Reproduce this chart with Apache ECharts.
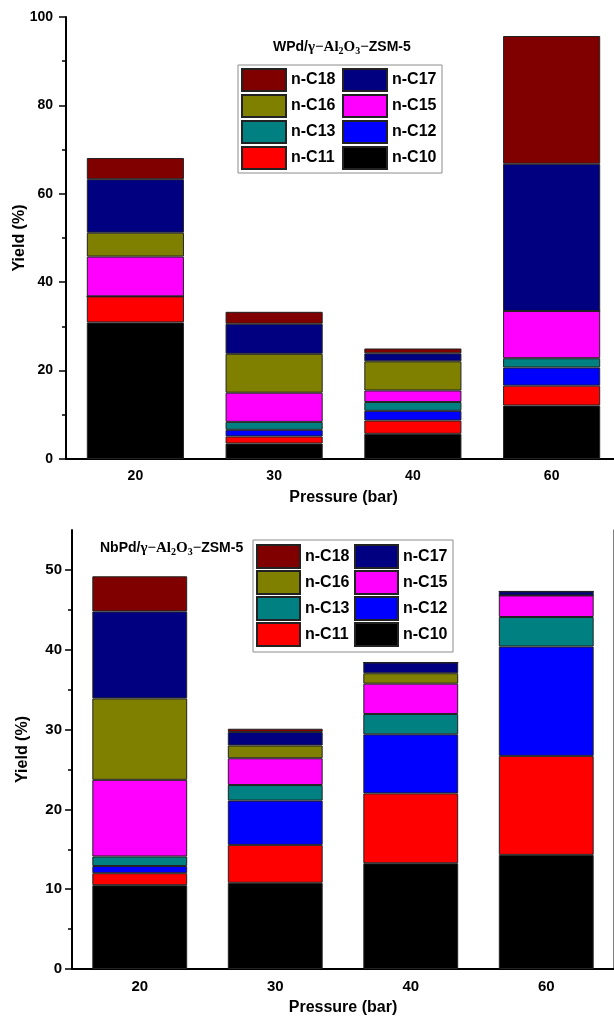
<!DOCTYPE html>
<html>
<head>
<meta charset="utf-8">
<script src="https://cdn.jsdelivr.net/npm/echarts@6.0.0/dist/echarts.min.js"></script>
<style>
html,body{margin:0;padding:0;background:#fff;}
#chart{width:614px;height:1016px;}
</style>
</head>
<body>
<div id="chart"></div>
<script>
// ---- data ----
const categories = ['20', '30', '40', '60'];
const seriesNames = ['n-C10', 'n-C11', 'n-C12', 'n-C13', 'n-C15', 'n-C16', 'n-C17', 'n-C18'];
const legendOrder = ['n-C18', 'n-C17', 'n-C16', 'n-C15', 'n-C13', 'n-C12', 'n-C11', 'n-C10'];
const seriesColors = ['#000000', '#FF0000', '#0000FF', '#008080', '#FF00FF', '#808000', '#000080', '#800000'];

// WPd/γ-Al2O3-ZSM-5 (top)
const wC10 = [30.9, 3.5, 5.7, 12.1];
const wC11 = [5.9, 1.6, 3.0, 4.5];
const wC12 = [0, 1.5, 2.2, 4.1];
const wC13 = [0, 1.8, 2.0, 2.1];
const wC15 = [9.0, 6.6, 2.6, 10.7];
const wC16 = [5.4, 8.8, 6.6, 0];
const wC17 = [12.1, 6.8, 1.8, 33.3];
const wC18 = [4.8, 2.7, 1.1, 28.9];

// NbPd/γ-Al2O3-ZSM-5 (bottom)
const nC10 = [10.5, 10.8, 13.25, 14.3];
const nC11 = [1.5, 4.75, 8.75, 12.4];
const nC12 = [0.9, 5.55, 7.4, 13.7];
const nC13 = [1.2, 1.95, 2.55, 3.7];
const nC15 = [9.6, 3.35, 3.8, 2.7];
const nC16 = [10.2, 1.6, 1.3, 0];
const nC17 = [10.9, 1.7, 1.35, 0.5];
const nC18 = [4.4, 0.4, 0, 0];

const topMajorTicks = [0, 20, 40, 60, 80, 100];
const bottomMajorTicks = [0, 10, 20, 30, 40, 50];
const bottomMinorTicks = [5, 15, 25, 35, 45];

const topData = [wC10, wC11, wC12, wC13, wC15, wC16, wC17, wC18];
const bottomData = [nC10, nC11, nC12, nC13, nC15, nC16, nC17, nC18];

// ---- styling ----
const SANS = '"Liberation Sans", Arial, sans-serif';
const SERIF = '"Liberation Serif", "Times New Roman", serif';

function makeSeries(dataSets, xi, yi, stack) {
  return dataSets.map((d, i) => ({
    name: seriesNames[i],
    type: 'bar',
    stack: stack,
    xAxisIndex: xi,
    yAxisIndex: yi,
    barWidth: '70%',
    data: d,
    itemStyle: { color: seriesColors[i], borderColor: '#222', borderWidth: 1 },
    emphasis: { disabled: true },
    animation: false
  }));
}

const titleRich = {
  b: { fontFamily: SANS, fontWeight: 'bold', fontSize: 14, color: '#000', lineHeight: 18, verticalAlign: 'middle' },
  g: { fontFamily: SERIF, fontSize: 15, color: '#000', lineHeight: 18, verticalAlign: 'middle' },
  s: { fontFamily: SERIF, fontSize: 10, color: '#000', lineHeight: 18, verticalAlign: 'bottom' }
};

function legendCfg(left, top, iw, ih, gap, tw, padding) {
  return {
    data: legendOrder,
    left: left, top: top, width: 205,
    orient: 'horizontal',
    icon: 'rect',
    itemWidth: iw, itemHeight: ih, itemGap: gap,
    padding: padding,
    borderColor: '#8c8c8c', borderWidth: 1,
    backgroundColor: '#fff',
    selectedMode: false,
    textStyle: { fontFamily: SANS, fontWeight: 'bold', fontSize: 16, lineHeight: 18, color: '#000', width: tw }
  };
}

const axisLbl = (size, margin) => ({ fontFamily: SANS, fontWeight: 'bold', fontSize: size, color: '#000', margin: margin });
const nameStyle = { fontFamily: SANS, fontWeight: 'bold', fontSize: 16, color: '#000' };

const option = {
  backgroundColor: '#fff',
  animation: false,
  title: [
    { text: '{b|WPd/}{g|γ−Al}{s|2}{g|O}{s|3}{g|−}{b|ZSM-5}', left: 273, top: 38, padding: 0,
      textStyle: { rich: titleRich } },
    { text: '{b|NbPd/}{g|γ−Al}{s|2}{g|O}{s|3}{g|−}{b|ZSM-5}', left: 100, top: 539, padding: 0,
      textStyle: { rich: titleRich } }
  ],
  legend: [
    legendCfg(238, 65, 44, 22, 2, 49, [3, 1, 3, 3]),
    legendCfg(253, 540, 43, 23, 1, 48, [4, 2, 5, 3])
  ],
  grid: [
    { left: 66, top: 17, width: 555, height: 442, outerBoundsMode: 'none', containLabel: false },
    { left: 72, top: 530, width: 542, height: 439, outerBoundsMode: 'none', containLabel: false }
  ],
  xAxis: [
    { type: 'category', gridIndex: 0, data: categories,
      axisLine: { lineStyle: { color: '#000', width: 2 } },
      axisTick: { show: false },
      axisLabel: axisLbl(14, 10),
      name: 'Pressure (bar)', nameLocation: 'middle', nameGap: 31, nameMoveOverlap: false, nameTextStyle: nameStyle },
    { type: 'category', gridIndex: 0, data: categories, position: 'top',
      axisLine: { lineStyle: { color: '#000', width: 2 } },
      axisTick: { show: false }, axisLabel: { show: false } },
    { type: 'category', gridIndex: 1, data: categories,
      axisLine: { lineStyle: { color: '#000', width: 2 } },
      axisTick: { show: false },
      axisLabel: axisLbl(15, 10),
      name: 'Pressure (bar)', nameLocation: 'middle', nameGap: 31, nameMoveOverlap: false, nameTextStyle: nameStyle },
    { type: 'category', gridIndex: 1, data: categories, position: 'top',
      axisLine: { lineStyle: { color: '#000', width: 2 } },
      axisTick: { show: false }, axisLabel: { show: false } }
  ],
  yAxis: [
    { type: 'value', gridIndex: 0, min: 0, max: 100, interval: 20,
      axisLine: { show: true, lineStyle: { color: '#000', width: 2 } },
      axisTick: { show: true, length: 7, lineStyle: { color: '#000', width: 1.5 } },
      minorTick: { show: true, splitNumber: 2, length: 4, lineStyle: { color: '#000', width: 1.5 } },
      splitLine: { show: false },
      axisLabel: Object.assign(axisLbl(14, 13), { customValues: topMajorTicks }),
      name: 'Yield (%)', nameLocation: 'middle', nameGap: 38, nameMoveOverlap: false, nameTextStyle: nameStyle },
    { type: 'value', gridIndex: 0, min: 0, max: 100, position: 'right',
      axisLine: { show: true, lineStyle: { color: '#000', width: 2 } },
      axisTick: { show: false }, axisLabel: { show: false }, splitLine: { show: false } },
    { type: 'value', gridIndex: 1, min: 0, max: 55,
      axisLine: { show: true, lineStyle: { color: '#000', width: 2 } },
      axisTick: { show: true, length: 7, customValues: bottomMajorTicks, lineStyle: { color: '#000', width: 1.5 } },
      splitLine: { show: false },
      axisLabel: Object.assign(axisLbl(15, 10), { customValues: bottomMajorTicks }),
      name: 'Yield (%)', nameLocation: 'middle', nameGap: 41, nameMoveOverlap: false, nameTextStyle: nameStyle },
    { type: 'value', gridIndex: 1, min: 0, max: 55, position: 'left',
      axisLine: { show: false },
      axisTick: { show: true, length: 4, customValues: bottomMinorTicks, lineStyle: { color: '#000', width: 1.5 } },
      axisLabel: { show: false }, splitLine: { show: false } },
    { type: 'value', gridIndex: 1, min: 0, max: 55, position: 'right',
      axisLine: { show: true, lineStyle: { color: '#555', width: 1.5 } },
      axisTick: { show: false }, axisLabel: { show: false }, splitLine: { show: false } }
  ],
  series: [].concat(
    makeSeries(topData, 0, 0, 'top'),
    makeSeries(bottomData, 2, 2, 'bottom')
  )
};

const chart = echarts.init(document.getElementById('chart'), null, { renderer: 'canvas' });
chart.setOption(option);
</script>
</body>
</html>
